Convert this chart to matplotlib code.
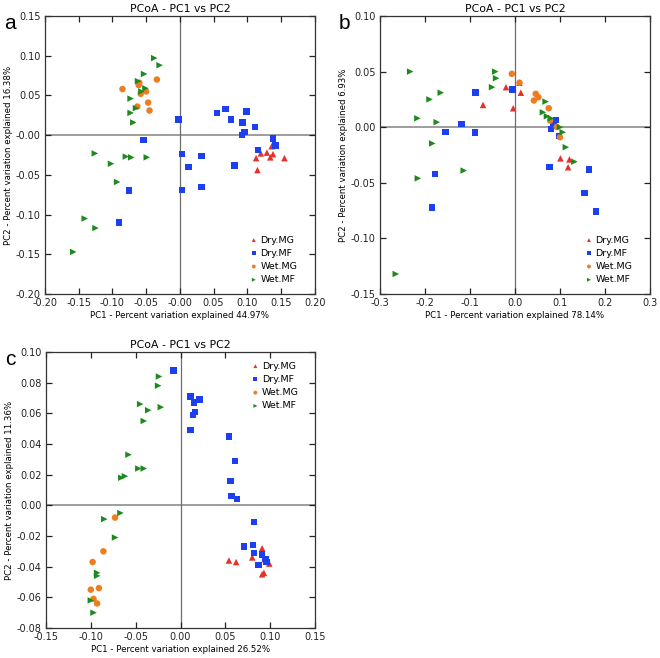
import numpy as np
import matplotlib
matplotlib.use("Agg")
import matplotlib.pyplot as plt
from matplotlib.ticker import FormatStrFormatter

groups = ["Dry.MG", "Dry.MF", "Wet.MG", "Wet.MF"]
markers = ["^", "s", "o", ">"]
colors = ["#e8302a", "#1c3ff0", "#ee7d22", "#1e8a1e"]

# panel a
a_dry_mg_x = [0.136, 0.120, 0.129, 0.138, 0.113, 0.134, 0.155, 0.115]
a_dry_mg_y = [-0.014, -0.023, -0.022, -0.024, -0.029, -0.028, -0.029, -0.044]
a_dry_mf_x = [-0.002, -0.054, 0.055, 0.068, 0.076, 0.099, 0.093, 0.111, 0.092, 0.096, 0.138,
              0.142, 0.116, 0.003, 0.032, 0.013, 0.081, 0.003, 0.032, -0.075, -0.090]
a_dry_mf_y = [0.020, -0.006, 0.028, 0.033, 0.020, 0.030, 0.016, 0.010, 0.000, 0.004, -0.004,
              -0.013, -0.019, -0.024, -0.026, -0.040, -0.038, -0.069, -0.065, -0.070, -0.110]
a_wet_mg_x = [-0.085, -0.060, -0.061, -0.034, -0.058, -0.050, -0.047, -0.063, -0.045]
a_wet_mg_y = [0.058, 0.066, 0.063, 0.070, 0.052, 0.055, 0.041, 0.036, 0.031]
a_wet_mf_x = [-0.038, -0.030, -0.053, -0.062, -0.051, -0.057, -0.073, -0.065, -0.073, -0.069,
              -0.126, -0.080, -0.072, -0.049, -0.102, -0.093, -0.141, -0.125, -0.158]
a_wet_mf_y = [0.097, 0.088, 0.077, 0.068, 0.059, 0.055, 0.046, 0.034, 0.028, 0.016,
              -0.023, -0.027, -0.028, -0.028, -0.036, -0.059, -0.105, -0.117, -0.147]

# panel b
b_dry_mg_x = [-0.020, 0.013, -0.071, -0.004, 0.010, 0.101, 0.121, 0.118]
b_dry_mg_y = [0.036, 0.031, 0.020, 0.017, 0.040, -0.028, -0.029, -0.036]
b_dry_mf_x = [-0.088, -0.005, -0.119, -0.154, -0.089, -0.178, -0.184, 0.091, 0.087, 0.080,
              0.084, 0.098, 0.077, 0.165, 0.155, 0.180]
b_dry_mf_y = [0.031, 0.034, 0.003, -0.0045, -0.005, -0.042, -0.072, 0.0066, 0.0024, -0.0015,
              0.001, -0.008, -0.036, -0.038, -0.059, -0.076]
b_wet_mg_x = [-0.007, 0.010, 0.046, 0.052, 0.042, 0.075, 0.078, 0.093, 0.100]
b_wet_mg_y = [0.048, 0.040, 0.030, 0.027, 0.024, 0.017, 0.006, 0.0003, -0.009]
b_wet_mf_x = [-0.233, -0.044, -0.042, -0.051, -0.165, -0.190, -0.217, -0.174, -0.184, 0.068,
              0.062, 0.071, 0.080, 0.100, 0.106, 0.113, 0.132, -0.114, -0.216, -0.265]
b_wet_mf_y = [0.050, 0.050, 0.044, 0.036, 0.031, 0.025, 0.008, 0.0045, -0.0146, 0.023,
              0.0134, 0.0098, 0.008, 0.000, -0.0045, -0.018, -0.031, -0.039, -0.046, -0.132]

# panel c
c_dry_mg_x = [0.091, 0.080, 0.054, 0.062, 0.099, 0.093, 0.091, 0.094]
c_dry_mg_y = [-0.028, -0.034, -0.036, -0.037, -0.038, -0.044, -0.045, -0.035]
c_dry_mf_x = [-0.008, 0.011, 0.015, 0.021, 0.016, 0.014, 0.011, 0.054, 0.061, 0.056,
              0.057, 0.063, 0.082, 0.071, 0.081, 0.082, 0.091, 0.095, 0.096, 0.087]
c_dry_mf_y = [0.088, 0.071, 0.067, 0.069, 0.061, 0.059, 0.049, 0.045, 0.029, 0.016,
              0.006, 0.004, -0.011, -0.027, -0.026, -0.031, -0.032, -0.035, -0.037, -0.039]
c_wet_mg_x = [-0.073, -0.086, -0.098, -0.100, -0.091, -0.097, -0.093]
c_wet_mg_y = [-0.008, -0.030, -0.037, -0.055, -0.054, -0.061, -0.064]
c_wet_mf_x = [-0.024, -0.025, -0.045, -0.036, -0.022, -0.041, -0.058, -0.047, -0.041, -0.062,
              -0.066, -0.067, -0.085, -0.073, -0.093, -0.093, -0.100, -0.097]
c_wet_mf_y = [0.084, 0.078, 0.066, 0.062, 0.064, 0.055, 0.033, 0.024, 0.024, 0.019,
              0.018, -0.005, -0.009, -0.021, -0.044, -0.046, -0.062, -0.070]

panels = [
    dict(letter="a", pos=[0.068, 0.5532, 0.409, 0.4225],
         data=[(a_dry_mg_x, a_dry_mg_y), (a_dry_mf_x, a_dry_mf_y),
               (a_wet_mg_x, a_wet_mg_y), (a_wet_mf_x, a_wet_mf_y)],
         xlim=(-0.2, 0.2), ylim=(-0.2, 0.15), xstep=0.05, ystep=0.05, xfmt="%.2f", yfmt="%.2f",
         xlabel="PC1 - Percent variation explained 44.97%",
         ylabel="PC2 - Percent variation explained 16.38%",
         loc="lower right", anchor=(0.935, 0.035)),
    dict(letter="b", pos=[0.5758, 0.5532, 0.409, 0.4225],
         data=[(b_dry_mg_x, b_dry_mg_y), (b_dry_mf_x, b_dry_mf_y),
               (b_wet_mg_x, b_wet_mg_y), (b_wet_mf_x, b_wet_mf_y)],
         xlim=(-0.3, 0.3), ylim=(-0.15, 0.10), xstep=0.1, ystep=0.05, xfmt="%.1f", yfmt="%.2f",
         xlabel="PC1 - Percent variation explained 78.14%",
         ylabel="PC2 - Percent variation explained 6.93%",
         loc="lower right", anchor=(0.935, 0.035)),
    dict(letter="c", pos=[0.0697, 0.0456, 0.4076, 0.4195],
         data=[(c_dry_mg_x, c_dry_mg_y), (c_dry_mf_x, c_dry_mf_y),
               (c_wet_mg_x, c_wet_mg_y), (c_wet_mf_x, c_wet_mf_y)],
         xlim=(-0.15, 0.15), ylim=(-0.08, 0.10), xstep=0.05, ystep=0.02, xfmt="%.2f", yfmt="%.2f",
         xlabel="PC1 - Percent variation explained 26.52%",
         ylabel="PC2 - Percent variation explained 11.36%",
         loc="upper right", anchor=(0.94, 0.965)),
]

fig = plt.figure(figsize=(6.6, 6.58), dpi=100)

for p in panels:
    ax = fig.add_axes(p["pos"])
    ax.axhline(0, color="#8c8c8c", lw=1.2, zorder=1)
    ax.axvline(0, color="#6e6e6e", lw=0.9, zorder=1)
    for (x, y), g, m, c in zip(p["data"], groups, markers, colors):
        ax.scatter(x, y, marker=m, s=22, color=c, edgecolors="none", label=g, zorder=3)
    ax.set_xlim(*p["xlim"])
    ax.set_ylim(*p["ylim"])
    ax.set_xticks(np.arange(p["xlim"][0], p["xlim"][1] + 1e-9, p["xstep"]))
    ax.set_yticks(np.arange(p["ylim"][0], p["ylim"][1] + 1e-9, p["ystep"]))
    ax.xaxis.set_major_formatter(FormatStrFormatter(p["xfmt"]))
    ax.yaxis.set_major_formatter(FormatStrFormatter(p["yfmt"]))
    ax.tick_params(direction="in", top=True, right=True, length=4, width=0.9,
                   labelsize=7, colors="#222222", pad=3)
    for sp in ax.spines.values():
        sp.set_linewidth(0.9)
        sp.set_color("#333333")
    ax.set_title("PCoA - PC1 vs PC2", fontsize=7.8, pad=3)
    ax.set_xlabel(p["xlabel"], fontsize=6.2, labelpad=2)
    ax.set_ylabel(p["ylabel"], fontsize=6.2, labelpad=2)
    ax.legend(loc=p["loc"], bbox_to_anchor=p["anchor"], frameon=False, fontsize=6.8,
              markerscale=0.6, handletextpad=0.1, labelspacing=0.45,
              borderpad=0, borderaxespad=0, handlelength=1.2)
    x0, y1 = p["pos"][0], p["pos"][1] + p["pos"][3]
    fig.text(x0 - 0.062, y1 + 0.003, p["letter"], fontsize=15, family="Liberation Sans",
             va="top", ha="left")

fig.savefig("out.png", dpi=100)
